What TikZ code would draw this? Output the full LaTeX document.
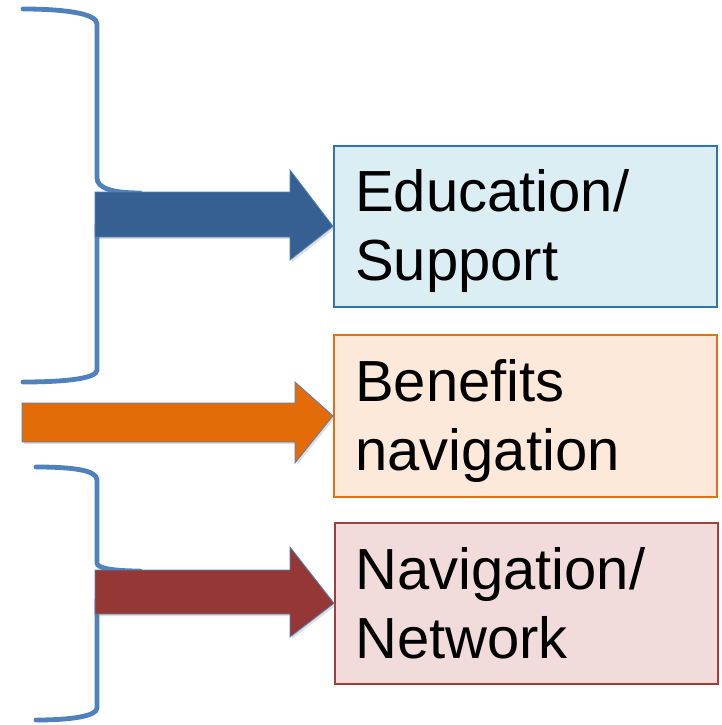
\documentclass[tikz,border=0pt]{standalone}
\usepackage{fontspec}
\setmainfont{Liberation Sans}
\usetikzlibrary{shadows}
\definecolor{bracecol}{RGB}{79,129,189}
\definecolor{eduarrow}{RGB}{55,96,146}
\definecolor{benarrow}{RGB}{227,108,9}
\definecolor{navarrow}{RGB}{149,55,53}
\definecolor{edufill}{RGB}{219,238,244}
\definecolor{eduline}{RGB}{46,117,182}
\definecolor{benfill}{RGB}{253,233,217}
\definecolor{benline}{RGB}{228,112,20}
\definecolor{navfill}{RGB}{242,220,219}
\definecolor{navline}{RGB}{160,64,62}
\begin{document}
\begin{tikzpicture}[x=1pt,y=-1pt,font=\fontsize{58}{69}\selectfont]
       \tikzstyle{brace}=[draw=bracecol, line width=4.8pt, line cap=round]
       \tikzstyle{blockarrow}=[draw=bracecol, line width=0.8pt, line join=miter,
          drop shadow={opacity=0.25, shadow xshift=2pt, shadow yshift=-2pt}]
       \tikzstyle{box}=[draw, line width=1.6pt, rectangle, anchor=north west, inner sep=0pt]
       \tikzstyle{boxtext}=[anchor=base west, align=left, inner sep=0pt]
       \useasboundingbox (0,0) rectangle (721,725);
       % braces
       \draw[brace] (23,9) .. controls (62,9) and (97,13) .. (97,24) -- (97,178)
          .. controls (97,188) and (112,193) .. (140,193);
       \draw[brace] (97,225) -- (97,370) .. controls (97,379) and (62,382) .. (23,382);
       \draw[brace] (36,467) .. controls (72,467) and (97,470) .. (97,480) -- (97,563)
          .. controls (97,568) and (112,571) .. (140,571);
       \draw[brace] (97,600) -- (97,708) .. controls (97,716) and (72,720) .. (36,720);
       % boxes
       \node[box, draw=eduline, fill=edufill, minimum width=383pt, minimum height=161pt] (edu) at (333,145) {};
       \node[box, draw=benline, fill=benfill, minimum width=383pt, minimum height=162pt] (ben) at (333,334) {};
       \node[box, draw=navline, fill=navfill, minimum width=383pt, minimum height=161pt] (nav) at (334,522) {};
       \node[boxtext] (edutext) at (355,280) {Education/\\Support};
       \node[boxtext] (bentext) at (355,470) {Benefits\\navigation};
       \node[boxtext] (navtext) at (355,658) {Navigation/\\Network};
       % arrows
       \draw[blockarrow, fill=eduarrow] (95,192) -- (290,192) -- (290,170) -- (edu.west)
          -- (290,260) -- (290,237) -- (95,237) -- cycle;
       \draw[blockarrow, fill=benarrow] (22,403) -- (295,403) -- (295,382) -- (ben.west)
          -- (295,463) -- (295,442) -- (22,442) -- cycle;
       \draw[blockarrow, fill=navarrow] (95,570) -- (290,570) -- (290,547) -- (nav.west)
          -- (290,637) -- (290,614) -- (95,614) -- cycle;
\end{tikzpicture}
\end{document}
